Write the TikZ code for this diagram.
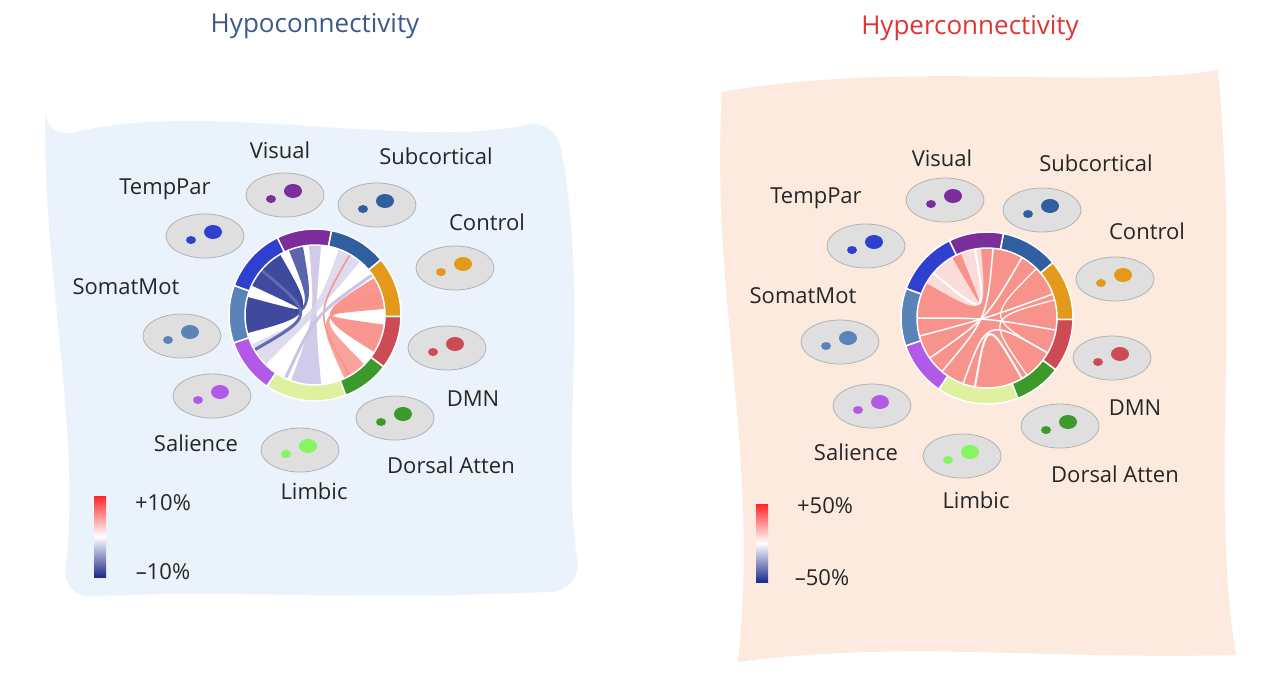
\documentclass[tikz,border=0pt]{standalone}
\usepackage{fontspec}
\setmainfont{Open Sans}
\usetikzlibrary{calc,shapes.geometric}
\definecolor{cSub}{HTML}{2F5F9E}\definecolor{cVis}{HTML}{7B2D9B}
\definecolor{cTP}{HTML}{2F3FD0}\definecolor{cSM}{HTML}{5A84B8}
\definecolor{cSal}{HTML}{B25AE8}\definecolor{cLim}{HTML}{DFF0A0}
\definecolor{cDA}{HTML}{3C9A2A}\definecolor{cDMN}{HTML}{CC4B55}
\definecolor{cCon}{HTML}{E39A1A}\definecolor{navy}{HTML}{1E2A8C}
\definecolor{salmon}{HTML}{F7938B}\definecolor{lav}{HTML}{C9C3E6}
\definecolor{hypo}{HTML}{3A5A8A}\definecolor{hyper}{HTML}{E03535}
\definecolor{bgL}{HTML}{EAF2FB}\definecolor{bgR}{HTML}{FDEADF}
\newcommand\myseg[4]{\fill[#4,draw=white,line width=1.5pt] ($(#1)+(-#2:86)$) arc[start angle=-#2,end angle=-#3,radius=86] -- ($(#1)+(-#3:70)$) arc[start angle=-#3,end angle=-#2,radius=70] -- cycle;}
\newcommand\myband[6]{\fill[#6,opacity=.85] ($(#1)+(-#2:70)$) arc[start angle=-#2,end angle=-#3,radius=70] .. controls (#1) .. ($(#1)+(-#4:70)$) arc[start angle=-#4,end angle=-#5,radius=70] .. controls (#1) .. cycle;}
\newcommand\mychord[5]{\draw[#4,line width=#5] ($(#1)+(-#2:70)$) .. controls (#1) .. ($(#1)+(-#3:70)$);}
\newcommand\mybrain[4]{\node[brain] (#1) at (#2,#3) {};
 \fill[#4] ($(#1.center)+(8,-4)$) ellipse[x radius=9,y radius=7];
 \fill[#4] ($(#1.center)+(-14,4)$) ellipse[x radius=5,y radius=4];}
\newcommand\allsegs[1]{%
 \myseg{#1}{40}{79}{cSub}\myseg{#1}{79}{116}{cVis}\myseg{#1}{116}{160}{cTP}
 \myseg{#1}{160}{199}{cSM}\myseg{#1}{199}{236}{cSal}\myseg{#1}{236}{291}{cLim}
 \myseg{#1}{291}{323}{cDA}\myseg{#1}{323}{359}{cDMN}\myseg{#1}{-1}{40}{cCon}}
\begin{document}
\begin{tikzpicture}[x=1pt,y=-1pt,
 lab/.style={font=\fontsize{22}{24}\selectfont,text=black!85},
 ttl/.style={font=\fontsize{26}{28}\selectfont},
 brain/.style={ellipse,minimum width=78pt,minimum height=44pt,fill=gray!25,draw=gray!60,line width=.8pt}]
\useasboundingbox (0,0) rectangle (1280,681);
\fill[white] (0,0) rectangle (1280,681);
% backgrounds
\fill[bgL,rounded corners=30pt] (45,140) .. controls (200,100) and (420,150) .. (555,118) .. controls (590,300) and (560,450) .. (582,590) .. controls (400,600) and (200,590) .. (62,598) .. controls (80,450) and (50,300) .. (45,140) -- cycle;
\fill[bgR] (722,92) .. controls (900,60) and (1100,90) .. (1218,70) .. controls (1240,300) and (1210,500) .. (1236,655) .. controls (1050,660) and (900,640) .. (738,662) .. controls (760,450) and (710,300) .. (722,92) -- cycle;
\node[ttl,text=hypo] (t1) at (315,26) {Hypoconnectivity};
\node[ttl,text=hyper] (t2) at (970,28) {Hyperconnectivity};
% ---- left chord
\coordinate (L) at (315,315);
\fill[white] (L) circle[radius=70];
\myband{L}{85}{95}{250}{275}{lav}
\myband{L}{50}{70}{205}{225}{lav!70}
\myband{L}{120}{155}{165}{195}{navy}
\myband{L}{100}{112}{175}{190}{navy!85}
\myband{L}{5}{32}{328}{352}{salmon!90!red}
\myband{L}{10}{20}{295}{315}{salmon}
\mychord{L}{60}{300}{salmon}{1.5pt}
\mychord{L}{35}{245}{lav}{3pt}
\mychord{L}{140}{210}{navy!70}{3pt}
\allsegs{L}
% ---- right chord
\coordinate (R) at (987,318);
\fill[salmon] (R) circle[radius=70];
\myband{R}{95}{112}{120}{150}{white!80!salmon}
\mychord{R}{100}{140}{white}{2pt}
\mychord{R}{85}{230}{white}{1.5pt}
\mychord{R}{60}{215}{white}{1.5pt}
\mychord{R}{20}{195}{white}{1.5pt}
\mychord{R}{350}{180}{white}{1.5pt}
\mychord{R}{330}{250}{white}{1.5pt}
\mychord{R}{300}{260}{white}{2pt}
\mychord{R}{15}{305}{white}{1.2pt}
\mychord{R}{45}{330}{white}{1.2pt}
\allsegs{R}
% ---- left brains and labels
\mybrain{b1}{285}{195}{cVis}\mybrain{b2}{377}{205}{cSub}
\mybrain{b3}{205}{236}{cTP}\mybrain{b4}{455}{268}{cCon}
\mybrain{b5}{182}{336}{cSM}\mybrain{b6}{447}{348}{cDMN}
\mybrain{b7}{212}{396}{cSal}\mybrain{b8}{395}{418}{cDA}
\mybrain{b9}{300}{450}{cLim!60!green}
\node[lab] (l1) at (280,150) {Visual};
\node[lab] (l2) at (436,156) {Subcortical};
\node[lab] (l3) at (165,189) {TempPar};
\node[lab] (l4) at (487,222) {Control};
\node[lab] (l5) at (126,287) {SomatMot};
\node[lab] (l6) at (473,399) {DMN};
\node[lab] (l7) at (196,443) {Salience};
\node[lab] (l8) at (451,465) {Dorsal Atten};
\node[lab] (l9) at (314,491) {Limbic};
\shade[top color=red!85,bottom color=navy,middle color=white] (94,496) rectangle (106,577);
\node[lab] (p1) at (163,503) {+10\%};
\node[lab] (m1) at (163,572) {–10\%};
% ---- right brains and labels
\mybrain{c1}{945}{200}{cVis}\mybrain{c2}{1042}{210}{cSub}
\mybrain{c3}{866}{246}{cTP}\mybrain{c4}{1115}{279}{cCon}
\mybrain{c5}{840}{342}{cSM}\mybrain{c6}{1112}{358}{cDMN}
\mybrain{c7}{872}{406}{cSal}\mybrain{c8}{1060}{426}{cDA}
\mybrain{c9}{962}{456}{cLim!60!green}
\node[lab] (r1) at (942,158) {Visual};
\node[lab] (r2) at (1096,163) {Subcortical};
\node[lab] (r3) at (816,198) {TempPar};
\node[lab] (r4) at (1147,231) {Control};
\node[lab] (r5) at (803,296) {SomatMot};
\node[lab] (r6) at (1135,408) {DMN};
\node[lab] (r7) at (856,452) {Salience};
\node[lab] (r8) at (1115,474) {Dorsal Atten};
\node[lab] (r9) at (976,500) {Limbic};
\shade[top color=red!85,bottom color=navy,middle color=white] (756,504) rectangle (768,582);
\node[lab] (p2) at (825,506) {+50\%};
\node[lab] (m2) at (822,578) {–50\%};
\end{tikzpicture}
\end{document}
